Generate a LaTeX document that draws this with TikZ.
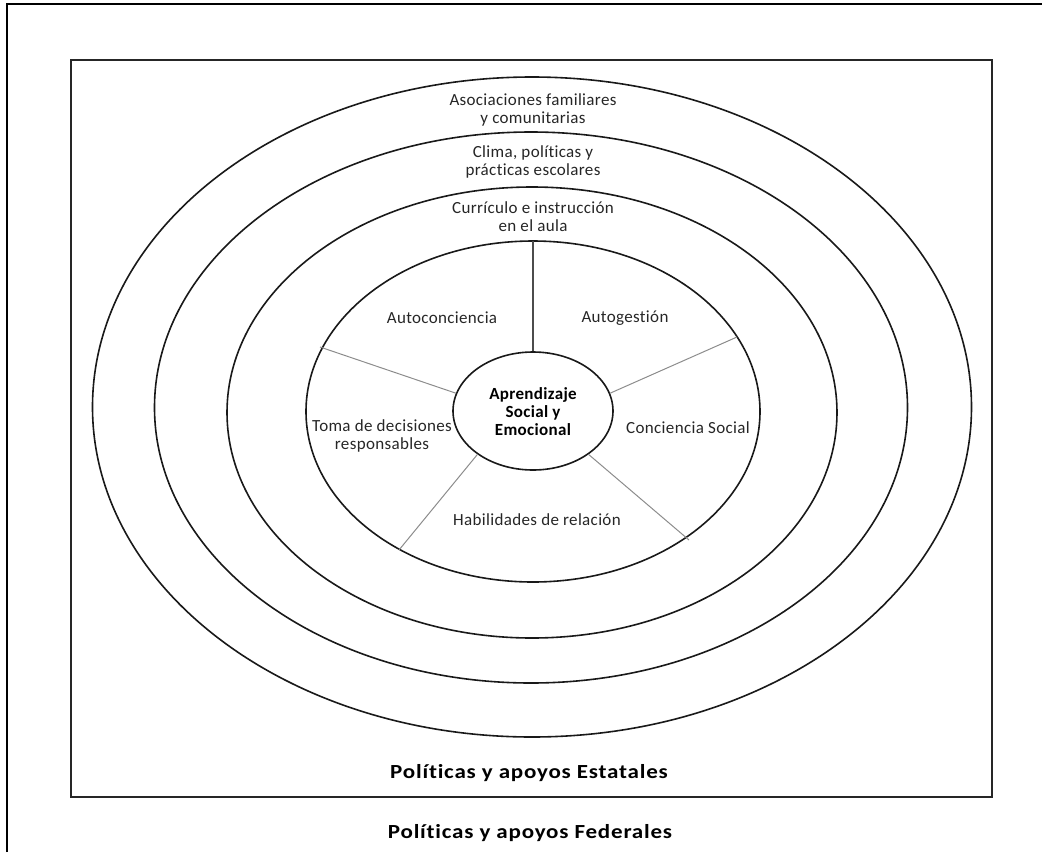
\documentclass[tikz,border=0pt]{standalone}
\usepackage{fontspec}
\setmainfont{Carlito}[LetterSpace=2,Ligatures=NoCommon]
\newfontfamily\footfont{Carlito}[FakeStretch=1.15,LetterSpace=4,Ligatures=NoCommon]
\usetikzlibrary{shapes.geometric}
\begin{document}
\begin{tikzpicture}[x=1pt,y=-1pt,
  frame/.style={draw=black,line width=2.4pt},
  box/.style={draw=black!85,line width=2.2pt},
  ring/.style={draw=black!90,line width=1.6pt},
  spoke/.style={draw=black!45,line width=1pt},
  mainspoke/.style={draw=black!70,line width=1.1pt},
  lbl/.style={align=center,font=\fontsize{17}{17.7}\selectfont,text=black!85,inner sep=0pt},
  blbl/.style={align=center,font=\bfseries\fontsize{17}{18}\selectfont,text=black,inner sep=0pt},
  foot/.style={align=center,font=\footfont\bfseries\fontsize{20}{22}\selectfont,text=black,inner sep=0pt}]
\useasboundingbox (0,0) rectangle (1042,852);
\draw[frame] (7,852) -- (7,4) -- (1042,4);
\draw[box] (71,60) rectangle (992,797);
\draw[ring] (532,407) ellipse [x radius=439.5pt, y radius=330pt];
\draw[ring] (531,407.5) ellipse [x radius=376.5pt, y radius=275.5pt];
\draw[ring] (532,412.5) ellipse [x radius=305pt, y radius=225.5pt];
\draw[ring] (533,411.5) ellipse [x radius=227pt, y radius=170.5pt];
\node[ellipse,draw=black!90,line width=1.6pt,minimum width=160pt,minimum height=118pt,inner sep=0pt] (core) at (533,411) {};
\node[blbl] (coret) at (533,412) {Aprendizaje\\Social y\\Emocional};
\coordinate (sTop) at (533,241);
\coordinate (sUR) at (737,337);
\coordinate (sUL) at (320,347);
\coordinate (sLL) at (399,550);
\coordinate (sLR) at (689,540);
\draw[mainspoke] (core.90) -- (sTop);
\draw[spoke] (core.13) -- (sUR);
\draw[spoke] (core.167) -- (sUL);
\draw[spoke] (core.218) -- (sLL);
\draw[spoke] (core.322) -- (sLR);
\node[lbl] (asoc) at (533,110) {Asociaciones familiares\\y comunitarias};
\node[lbl] (clima) at (533,162) {Clima, políticas y\\prácticas escolares};
\node[lbl] (curr) at (533,217) {Currículo e instrucción\\en el aula};
\node[lbl] (autoc) at (442,318) {Autoconciencia};
\node[lbl] (autog) at (625,318) {Autogestión};
\node[lbl] (toma) at (382,436) {Toma de decisiones\\responsables};
\node[lbl] (conc) at (688,428) {Conciencia Social};
\node[lbl] (habil) at (537,520) {Habilidades de relación};
\node[foot] (estat) at (529,773) {Políticas y apoyos Estatales};
\node[foot] (feder) at (530,833) {Políticas y apoyos Federales};
\end{tikzpicture}
\end{document}
